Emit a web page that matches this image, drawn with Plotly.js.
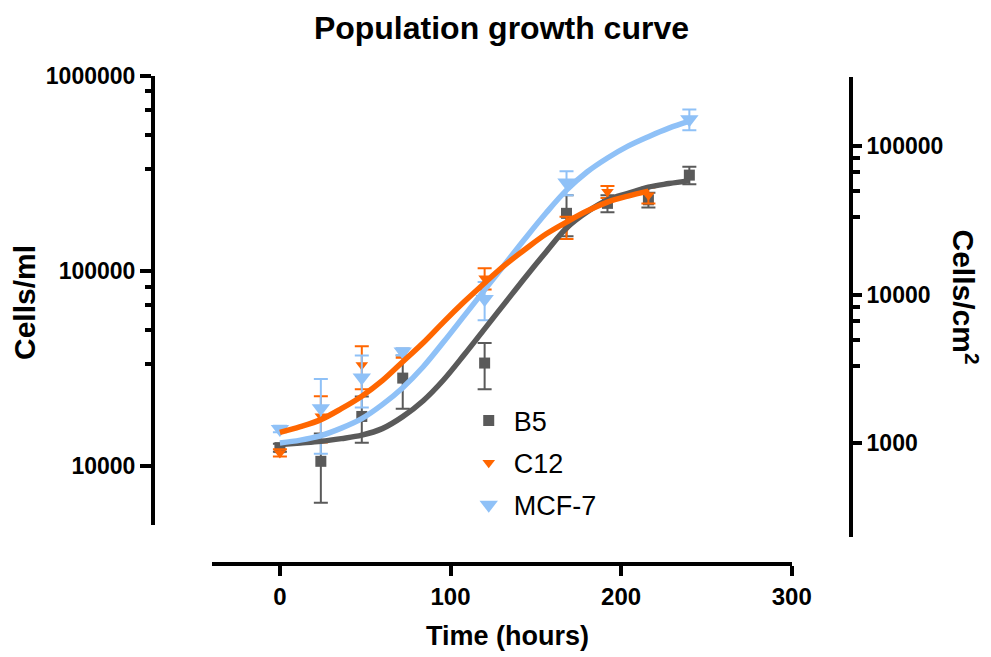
<!DOCTYPE html>
<html>
<head>
<meta charset="utf-8">
<script src="https://cdn.plot.ly/plotly-3.0.1.min.js"></script>
<style>html,body{margin:0;padding:0;background:#fff;}#chart{width:991px;height:657px;}</style>
</head>
<body>
<div id="chart"></div>
<script>
// ---- data ----
const seriesNames = ["B5", "C12", "MCF-7"];

const b5Times = [0, 24, 48, 72, 120, 168, 192, 216, 240];
const b5Mean  = [12460, 10600, 18000, 28300, 33800, 197800, 222500, 232000, 310500];
const b5Sd    = [600, 4100, 4800, 8600, 9000, 47000, 22000, 20000, 32000];

const c12Times = [0, 24, 48, 72, 120, 168, 192, 216];
const c12Mean  = [11710, 18020, 33000, 38000, 92000, 168000, 255000, 245000];
const c12Sd    = [500, 4800, 8200, 2000, 11500, 22000, 18000, 23000];

const mcfTimes = [0, 24, 48, 72, 120, 168, 240];
const mcfMean  = [15530, 19800, 28500, 38700, 72000, 285000, 600000];
const mcfSd    = [600, 8200, 8500, 1500, 16000, 40000, 73000];

// fitted growth curves
const fitTimesLong  = [0,12,24,36,48,60,72,84,96,108,120,132,144,156,168,180,192,204,216,228,240];
const fitTimesShort = [0,12,24,36,48,60,72,84,96,108,120,132,144,156,168,180,192,204,216];
const b5Fit  = [12910,13150,13420,13860,14440,15590,17960,21680,27770,37270,50620,68770,93390,125400,166300,200900,231300,250300,269600,281000,291000];
const c12Fit = [14930,15960,17340,19730,22860,27440,34310,42930,54970,69590,87000,107600,129900,155000,178500,203200,225900,242500,257200];
const mcfFit = [13170,13610,14360,15680,17540,20690,25270,32360,43430,58990,80130,108850,147800,198500,260000,322000,380000,436900,488700,540200,586600];

// axis ticks
const xTicks = [0, 100, 200, 300];
const yLeftTicks = [10000, 100000, 1000000];
const yLeftTickText = ["10000", "100000", "1000000"];
const yLeftMinor = [833300, 666700, 500000, 333300, 83330, 66670, 50000, 33330];
const yRightTicks = [1000, 10000, 100000];
const yRightTickText = ["1000", "10000", "100000"];
const yRightMinor = [83330, 66670, 50000, 33330, 8333, 6667, 5000, 3333];

// ---- styling ----
const colors = {B5: "#5a5a5a", C12: "#ff6600", "MCF-7": "#8fc1f7"};
const FONT = "Liberation Sans, Arial, Helvetica, sans-serif";

function pts(name, t, m, sd, symbol, size, group) {
  return {
    type: "scatter", mode: "markers", name: name, x: t, y: m,
    xaxis: "x", yaxis: "y", legendgroup: group, cliponaxis: false,
    marker: {symbol: symbol, size: size, color: colors[name]},
    error_y: {type: "data", array: sd, visible: true, color: colors[name], thickness: 2, width: 7},
    hoverinfo: "x+y+name"
  };
}
function fit(name, t, v) {
  return {
    type: "scatter", mode: "lines", x: t, y: v, showlegend: false,
    xaxis: "x", yaxis: "y", hoverinfo: "skip",
    line: {color: colors[name], width: 5.5, shape: "spline", smoothing: 1}
  };
}

const traces = [
  pts("B5", b5Times, b5Mean, b5Sd, "square", 11, "g1"),
  pts("C12", c12Times, c12Mean, c12Sd, "triangle-down", 11, "g2"),
  pts("MCF-7", mcfTimes, mcfMean, mcfSd, "triangle-down", 16, "g3"),
  fit("B5", fitTimesLong, b5Fit),
  fit("MCF-7", fitTimesLong, mcfFit),
  fit("C12", fitTimesShort, c12Fit),
  // invisible carrier so the right-hand axis is drawn
  {type: "scatter", mode: "markers", x: [100], y: [1000], xaxis: "x", yaxis: "y2",
   marker: {opacity: 0}, showlegend: false, hoverinfo: "skip"}
];

const tickFont = {family: FONT, size: 23, color: "#000", weight: 700};

const layout = {
  width: 991, height: 657,
  margin: {l: 140, r: 130, t: 70, b: 87, pad: 0},
  paper_bgcolor: "#ffffff", plot_bgcolor: "rgba(0,0,0,0)",
  font: {family: FONT, color: "#000"},
  showlegend: true,
  title: {
    text: "Population growth curve",
    font: {family: FONT, size: 32, color: "#000", weight: 700},
    x: 0.506, xref: "container", xanchor: "center",
    y: 0.958, yref: "container", yanchor: "middle"
  },
  xaxis: {
    domain: [0.0994, 0.9039], anchor: "free", position: 0.012,
    range: [-40, 300], tickmode: "array", tickvals: xTicks,
    showline: true, linewidth: 4, linecolor: "#000",
    ticks: "outside", ticklen: 10, tickwidth: 4, tickcolor: "#000",
    showgrid: false, zeroline: false,
    tickfont: {family: FONT, size: 24, color: "#000", weight: 700}
  },
  yaxis: {
    type: "log", domain: [0.09, 0.988], anchor: "free", position: 0.018,
    range: [Math.log10(5000), 6],
    tickmode: "array", tickvals: yLeftTicks, ticktext: yLeftTickText,
    showline: true, linewidth: 4, linecolor: "#000",
    ticks: "outside", ticklen: 11, tickwidth: 4, tickcolor: "#000",
    minor: {tickmode: "array", tickvals: yLeftMinor, ticks: "outside", ticklen: 6, tickwidth: 4, tickcolor: "#000", showgrid: false},
    showgrid: false, zeroline: false, tickfont: tickFont
  },
  yaxis2: {
    type: "log", domain: [0.066, 0.986], anchor: "free", position: 0.9861, side: "right",
    range: [2.369, 5.467],
    tickmode: "array", tickvals: yRightTicks, ticktext: yRightTickText,
    showline: true, linewidth: 4, linecolor: "#000",
    ticks: "outside", ticklen: 9, tickwidth: 4, tickcolor: "#000",
    minor: {tickmode: "array", tickvals: yRightMinor, ticks: "outside", ticklen: 7, tickwidth: 4, tickcolor: "#000", showgrid: false},
    showgrid: false, zeroline: false, tickfont: tickFont
  },
  legend: {
    x: 0.449, y: 0.347, xanchor: "left", yanchor: "top",
    bgcolor: "rgba(0,0,0,0)", borderwidth: 0,
    font: {family: FONT, size: 27, color: "#000"},
    itemsizing: "trace", tracegroupgap: 4, itemwidth: 40
  },
  annotations: [
    {text: "Cells/ml", xref: "paper", yref: "paper", x: -0.1609, y: 0.536,
     textangle: -90, showarrow: false, xanchor: "center", yanchor: "middle",
     font: {family: FONT, size: 30, color: "#000", weight: 700}},
    {text: "Cells/cm<sup>2</sup>", xref: "paper", yref: "paper", x: 1.1456, y: 0.545,
     textangle: 90, showarrow: false, xanchor: "center", yanchor: "middle",
     font: {family: FONT, size: 30, color: "#000", weight: 700}},
    {text: "Time (hours)", xref: "paper", yref: "paper", x: 0.5104, y: -0.132,
     showarrow: false, xanchor: "center", yanchor: "middle",
     font: {family: FONT, size: 27, color: "#000", weight: 700}}
  ]
};

Plotly.newPlot("chart", traces, layout, {displayModeBar: false, staticPlot: true});
</script>
</body>
</html>
